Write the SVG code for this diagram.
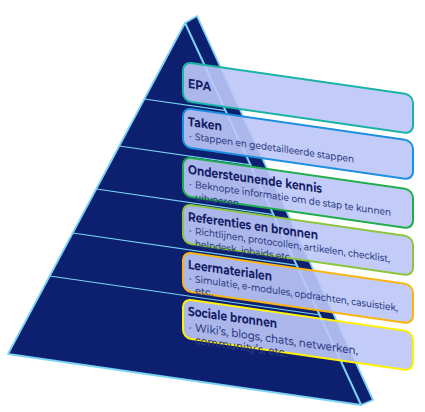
<svg xmlns="http://www.w3.org/2000/svg" width="425" height="412" viewBox="0 0 425 412">
<style>
.face{fill:#0d1f6f;stroke:#7ad3f3;stroke-width:1.8;stroke-linejoin:round}
.sep{stroke:#7ad3f3;stroke-width:1.2;fill:none}
.box{fill:#bcc6f7;fill-opacity:0.9;stroke-width:2}
.t{font-family:"Montserrat","Open Sans","Liberation Sans",sans-serif;font-weight:700;font-size:13px;fill:#141d66}
.b{font-family:"Montserrat","Open Sans","Liberation Sans",sans-serif;font-weight:500;font-size:10px;fill:#2f3e86}
.bl{font-size:11.5px}
</style>
<rect width="425" height="412" fill="#ffffff"/>
<g id="pyramid">
<polygon class="face" points="185,23 197,16 373,400 361,405"/>
<polygon class="face" points="185,23 8,354 361,405"/>
<g class="sep">
<line x1="144.4" y1="99" x2="225.6" y2="110.7"/>
<line x1="119.2" y1="146" x2="250.8" y2="164.9"/>
<line x1="96.2" y1="189" x2="273.7" y2="214.6"/>
<line x1="72.7" y1="233" x2="297.1" y2="265.3"/>
<line x1="49.7" y1="276" x2="320.3" y2="315"/>
</g>
</g>
<g id="epa" transform="matrix(1,0.143,0,1,0,0)">
<rect class="box" x="183" y="35.8" width="230" height="39" rx="8" stroke="#19b3a3"/>
<text class="t" x="188" y="61" textLength="23" lengthAdjust="spacingAndGlyphs">EPA</text>
</g>
<g id="taken" transform="matrix(1,0.143,0,1,0,0)">
<rect class="box" x="183" y="81.8" width="230" height="39" rx="8" stroke="#1b8fe0"/>
<text class="t" x="188" y="99" textLength="34" lengthAdjust="spacingAndGlyphs">Taken</text>
<text class="b" x="189" y="112">·</text>
<text class="b" x="195" y="112" textLength="159" lengthAdjust="spacingAndGlyphs">Stappen en gedetailleerde stappen</text>
</g>
<g id="ondersteunende" transform="matrix(1,0.143,0,1,0,0)">
<rect class="box" x="183" y="130.8" width="230" height="39" rx="8" stroke="#1fae4b"/>
<text class="t" x="188" y="147" textLength="134" lengthAdjust="spacingAndGlyphs">Ondersteunende kennis</text>
<text class="b" x="189" y="160">·</text>
<text class="b" x="195" y="160" textLength="196" lengthAdjust="spacingAndGlyphs">Beknopte informatie om de stap te kunnen</text>
<text class="b" x="195" y="172.5" textLength="44" lengthAdjust="spacingAndGlyphs">uitvoeren</text>
</g>
<g id="referenties" transform="matrix(1,0.143,0,1,0,0)">
<rect class="box" x="183" y="177.8" width="230" height="39" rx="8" stroke="#8cc63e"/>
<text class="t" x="188" y="194" textLength="130" lengthAdjust="spacingAndGlyphs">Referenties en bronnen</text>
<text class="b" x="189" y="206.5">·</text>
<text class="b" x="195" y="206.5" textLength="195" lengthAdjust="spacingAndGlyphs">Richtlijnen, protocollen, artikelen, checklist,</text>
<text class="b" x="195" y="219" textLength="97" lengthAdjust="spacingAndGlyphs">helpdesk, jobaids etc.</text>
</g>
<g id="leermaterialen" transform="matrix(1,0.143,0,1,0,0)">
<rect class="box" x="183" y="225.8" width="230" height="39" rx="8" stroke="#fbb40f"/>
<text class="t" x="188" y="242" textLength="84" lengthAdjust="spacingAndGlyphs">Leermaterialen</text>
<text class="b" x="189" y="254.5">·</text>
<text class="b" x="195" y="254.5" textLength="203" lengthAdjust="spacingAndGlyphs">Simulatie, e-modules, opdrachten, casuistiek,</text>
<text class="b" x="195" y="266">etc.</text>
</g>
<g id="sociale" transform="matrix(1,0.143,0,1,0,0)">
<rect class="box" x="183" y="272.8" width="230" height="39" rx="8" stroke="#fff200"/>
<text class="t" x="188" y="288.5" textLength="89" lengthAdjust="spacingAndGlyphs">Sociale bronnen</text>
<text class="b" x="189" y="303.5">·</text>
<text class="b bl" x="195" y="303.5" textLength="163" lengthAdjust="spacingAndGlyphs">Wiki’s, blogs, chats, netwerken,</text>
<text class="b bl" x="195" y="316" textLength="92" lengthAdjust="spacingAndGlyphs">community’s, etc.</text>
</g>
</svg>
